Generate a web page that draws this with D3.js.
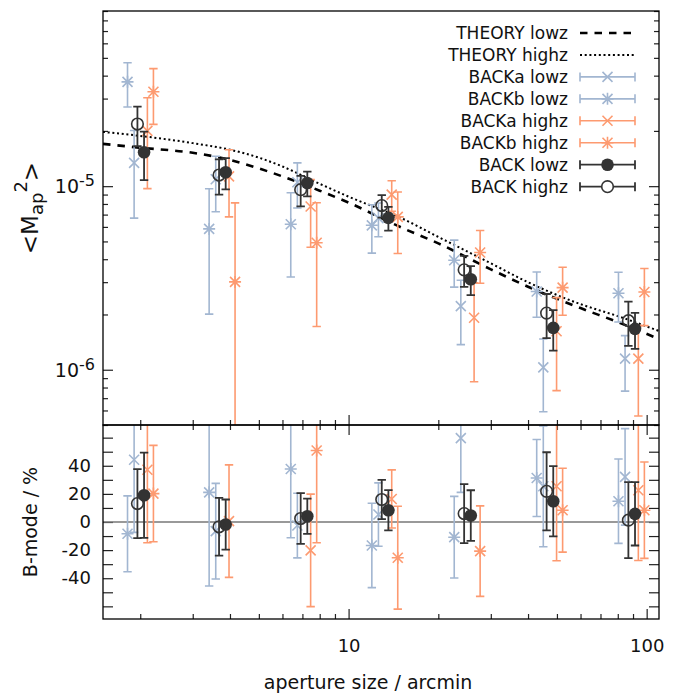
<!DOCTYPE html>
<html>
<head>
<meta charset="utf-8">
<script src="https://cdn.jsdelivr.net/npm/d3@7"></script>
<style>
body { margin: 0; background: #fff; }
text { font-family: "DejaVu Sans", sans-serif; fill: #111; }
</style>
</head>
<body>
<div id="chart"></div>
<script>
// aperture radius (arcmin) of the BACK lowz points, other series are shifted a little
var aperture = [2.06, 3.87, 7.27, 13.6, 25.7, 48.6, 91.4];

// theory curves
var theoryX     = [1.5, 2, 3, 4, 5, 6, 8, 10, 15, 20, 30, 40, 60, 80, 110];
var theoryLowz  = [1.70e-5, 1.62e-5, 1.52e-5, 1.39e-5, 1.25e-5, 1.13e-5, 0.945e-5, 0.814e-5, 0.596e-5, 0.488e-5, 0.3525e-5, 0.2834e-5, 0.2167e-5, 0.1818e-5, 0.147e-5];
var theoryHighz = [1.975e-5, 1.878e-5, 1.716e-5, 1.58e-5, 1.43e-5, 1.28e-5, 1.03e-5, 0.877e-5, 0.671e-5, 0.529e-5, 0.380e-5, 0.2997e-5, 0.2277e-5, 0.196e-5, 0.1626e-5];

// <Map^2> and errors
var backaLowz     = [1.34e-5, 1.09e-5, 1.05e-5, 0.67e-5, 0.222e-5, 0.103e-5, 0.115e-5];
var backaLowzErr  = [0.67e-5, 0.365e-5, 0.29e-5, 0.14e-5, 0.085e-5, 0.044e-5, 0.0385e-5];
var backbLowz     = [3.70e-5, 0.585e-5, 0.62e-5, 0.612e-5, 0.395e-5, 0.267e-5, 0.261e-5];
var backbLowzErr  = [1.0e-5, 0.384e-5, 0.30e-5, 0.18e-5, 0.113e-5, 0.074e-5, 0.079e-5];
var backaHighz    = [2.0e-5, 1.13e-5, 0.775e-5, 0.90e-5, 0.192e-5, 0.162e-5, 0.115e-5];
var backaHighzErr = [1.03e-5, 0.45e-5, 0.31e-5, 0.17e-5, 0.106e-5, 0.085e-5, 0.059e-5];
var backbHighz    = [3.27e-5, 0.301e-5, 0.492e-5, 0.68e-5, 0.435e-5, 0.28e-5, 0.265e-5];
var backbHighzErr = [1.1e-5, 0.51e-5, 0.32e-5, 0.25e-5, 0.139e-5, 0.082e-5, 0.091e-5];
var backLowz      = [1.53e-5, 1.19e-5, 1.04e-5, 0.672e-5, 0.311e-5, 0.169e-5, 0.167e-5];
var backLowzErr   = [0.45e-5, 0.23e-5, 0.16e-5, 0.10e-5, 0.056e-5, 0.042e-5, 0.037e-5];
var backHighz     = [2.18e-5, 1.15e-5, 0.957e-5, 0.784e-5, 0.35e-5, 0.2035e-5, 0.185e-5];
var backHighzErr  = [0.53e-5, 0.25e-5, 0.18e-5, 0.11e-5, 0.067e-5, 0.055e-5, 0.05e-5];

// B-mode (%) and errors, null = off the plot
var backaLowzB     = [44.3, -6.5, -2.5, 5.3, 59.7, 25.4, 32.1];
var backaLowzBErr  = [51.7, 34, 23, 22.5, 38.6, 43, 34.3];
var backbLowzB     = [-8.4, 21.1, 37.7, -16.7, -10.8, 31.3, 14.8];
var backbLowzBErr  = [27, 66.6, 48.9, 30, 29, 27.4, 30];
var backaHighzB    = [37.2, 0.6, -20.2, 16.4, null, 25.4, 22.6];
var backaHighzBErr = [52, 40, 40, 20.7, null, 53, 50];
var backbHighzB    = [20.2, null, 50.9, -25.4, -20.7, 8.4, 8.4];
var backbHighzBErr = [34.3, null, 65.7, 36.6, 32.2, 29.8, 34.3];
var backLowzB      = [19.0, -1.8, 4.1, 8.4, 4.6, 14.8, 5.8];
var backLowzBErr   = [30.3, 17.8, 12.5, 14.3, 18, 25, 22.5];
var backHighzB     = [13.1, -3.4, 2.5, 16, 6, 21.8, 1.3];
var backHighzBErr  = [24.5, 20.5, 18, 14, 21, 27.8, 27];

var yTicksTop = [1e-6, 1e-5];
var yTicksBot = [-60, -50, -40, -30, -20, -10, 0, 10, 20, 30, 40, 50, 60];

var blue = "#a2b6d1", orange = "#fd9a70", dark = "#333333";

var series = [
  {name: "BACKa lowz",  color: blue,   mark: "x",    shift: 0.926, v: backaLowz,  e: backaLowzErr,  b: backaLowzB,  be: backaLowzBErr},
  {name: "BACKb lowz",  color: blue,   mark: "star", shift: 0.88,  v: backbLowz,  e: backbLowzErr,  b: backbLowzB,  be: backbLowzBErr},
  {name: "BACKa highz", color: orange, mark: "x",    shift: 1.026, v: backaHighz, e: backaHighzErr, b: backaHighzB, be: backaHighzBErr},
  {name: "BACKb highz", color: orange, mark: "star", shift: 1.075, v: backbHighz, e: backbHighzErr, b: backbHighzB, be: backbHighzBErr},
  {name: "BACK lowz",   color: dark,   mark: "dot",  shift: 1,     v: backLowz,   e: backLowzErr,   b: backLowzB,   be: backLowzBErr},
  {name: "BACK highz",  color: dark,   mark: "ring", shift: 0.95,  v: backHighz,  e: backHighzErr,  b: backHighzB,  be: backHighzBErr}
];

var W = 686, H = 693;
var left = 103, right = 659, top1 = 11, mid = 425, bot = 619;

var x = d3.scaleLog().domain([1.5, 110]).range([left, right]);
var yTop = d3.scaleLog().domain([5e-7, 9e-5]).range([mid, top1]);
var yBot = d3.scaleLinear().domain([-69, 69]).range([bot, mid]);

var svg = d3.select("#chart").append("svg")
    .attr("width", W)
    .attr("height", H);

var defs = svg.append("defs");
defs.append("clipPath").attr("id", "clipTop").append("rect")
    .attr("x", left).attr("y", top1).attr("width", right - left).attr("height", mid - top1);
defs.append("clipPath").attr("id", "clipBot").append("rect")
    .attr("x", left).attr("y", mid).attr("width", right - left).attr("height", bot - mid);

function isDecade(v) {
  var l = Math.log10(v);
  return Math.abs(l - Math.round(l)) < 1e-6;
}
var xMajor = x.ticks().filter(isDecade);
var xMinor = x.ticks().filter(function(v) { return !isDecade(v); });
var yMajor = yTicksTop;
var yMinor = yTop.ticks().filter(function(v) { return !isDecade(v); });

// ticks: all drawn inwards, domain lines removed (frame drawn separately)
function ticks(axis, tx, ty) {
  var g = svg.append("g")
      .attr("transform", "translate(" + tx + "," + ty + ")")
      .call(axis);
  g.select(".domain").remove();
  g.selectAll("line").attr("stroke", "#222").attr("stroke-width", 1.2);
  g.selectAll("text").style("font-size", "18px").style("font-family", "DejaVu Sans, sans-serif").attr("fill", "#111");
  return g;
}

// top panel
var gy = ticks(d3.axisLeft(yTop).tickValues(yMajor).tickSize(-10).tickPadding(8).tickFormat(""), left, 0);
gy.selectAll(".tick").append("text")
    .attr("x", -8).attr("dy", "0.35em").attr("text-anchor", "end")
    .style("font-size", "19px")
    .each(function(d) {
      var t = d3.select(this);
      t.append("tspan").text("10");
      t.append("tspan").attr("dy", "-0.45em").style("font-size", "16px").text(String(Math.round(Math.log10(d))));
    });
ticks(d3.axisLeft(yTop).tickValues(yMinor).tickSize(-5).tickFormat(""), left, 0);
ticks(d3.axisRight(yTop).tickValues(yMajor).tickSize(-10).tickFormat(""), right, 0);
ticks(d3.axisRight(yTop).tickValues(yMinor).tickSize(-5).tickFormat(""), right, 0);
ticks(d3.axisBottom(x).tickValues(xMajor).tickSize(-10).tickFormat(""), 0, mid);
ticks(d3.axisBottom(x).tickValues(xMinor).tickSize(-5).tickFormat(""), 0, mid);

// bottom panel
ticks(d3.axisLeft(yBot).tickValues(yTicksBot).tickSize(-10).tickPadding(12)
    .tickFormat(function(d) { return (d % 20 === 0 && Math.abs(d) <= 40) ? String(d) : ""; }), left, 0);
ticks(d3.axisRight(yBot).tickValues(yTicksBot).tickSize(-10).tickFormat(""), right, 0);
ticks(d3.axisTop(x).tickValues(xMajor).tickSize(-10).tickFormat(""), 0, mid);
ticks(d3.axisTop(x).tickValues(xMinor).tickSize(-5).tickFormat(""), 0, mid);
ticks(d3.axisBottom(x).tickValues(xMajor).tickSize(-10).tickPadding(20).tickFormat(function(d) { return String(d); }), 0, bot);
ticks(d3.axisBottom(x).tickValues(xMinor).tickSize(-5).tickFormat(""), 0, bot);

// zero line
svg.append("line")
    .attr("x1", left).attr("x2", right)
    .attr("y1", yBot(0)).attr("y2", yBot(0))
    .attr("stroke", "#777").attr("stroke-width", 1.5);

// theory curves
var theoryLine = function(vals) {
  return d3.line()
    .x(function(d, i) { return x(theoryX[i]); })
    .y(function(d) { return yTop(d); })
    .curve(d3.curveMonotoneX)(vals);
};
var gTop = svg.append("g").attr("clip-path", "url(#clipTop)");
var gBot = svg.append("g").attr("clip-path", "url(#clipBot)");

gTop.append("path").attr("d", theoryLine(theoryLowz))
    .attr("fill", "none").attr("stroke", "#000").attr("stroke-width", 2.6).attr("stroke-dasharray", "7.5,7");
gTop.append("path").attr("d", theoryLine(theoryHighz))
    .attr("fill", "none").attr("stroke", "#000").attr("stroke-width", 2).attr("stroke-dasharray", "2,2.7");

function drawMark(g, type, cx, cy, color) {
  if (type === "x" || type === "star") {
    var s = 5;
    var d = "M" + (cx - s) + "," + (cy - s) + "L" + (cx + s) + "," + (cy + s) +
            "M" + (cx - s) + "," + (cy + s) + "L" + (cx + s) + "," + (cy - s);
    if (type === "star") d += "M" + (cx - 6) + "," + cy + "L" + (cx + 6) + "," + cy +
                              "M" + cx + "," + (cy - 6) + "L" + cx + "," + (cy + 6);
    g.append("path").attr("d", d).attr("stroke", color).attr("stroke-width", 1.6).attr("fill", "none");
  } else if (type === "dot") {
    g.append("circle").attr("cx", cx).attr("cy", cy).attr("r", 6.3).attr("fill", color);
  } else {
    g.append("circle").attr("cx", cx).attr("cy", cy).attr("r", 5.8)
        .attr("fill", "none").attr("stroke", color).attr("stroke-width", 1.6);
  }
}

function errorBar(g, px, y0, y1, color, w) {
  var c = 4.2;
  g.append("path")
      .attr("d", "M" + px + "," + y0 + "L" + px + "," + y1 +
                 "M" + (px - c) + "," + y0 + "L" + (px + c) + "," + y0 +
                 "M" + (px - c) + "," + y1 + "L" + (px + c) + "," + y1)
      .attr("stroke", color).attr("stroke-width", w).attr("fill", "none");
}

series.forEach(function(s) {
  var w = s.color === dark ? 1.8 : 1.6;
  aperture.forEach(function(a, i) {
    var px = x(a * s.shift);
    // top panel
    var v = s.v[i], e = s.e[i];
    errorBar(gTop, px, yTop(Math.max(v - e, 1e-9)), yTop(v + e), s.color, w);
    drawMark(gTop, s.mark, px, yTop(v), s.color);
    // bottom panel
    if (s.b[i] !== null) {
      errorBar(gBot, px, yBot(s.b[i] - s.be[i]), yBot(s.b[i] + s.be[i]), s.color, w);
      drawMark(gBot, s.mark, px, yBot(s.b[i]), s.color);
    }
  });
});

// frames
svg.append("rect").attr("x", left).attr("y", top1).attr("width", right - left).attr("height", mid - top1)
    .attr("fill", "none").attr("stroke", "#000").attr("stroke-width", 1.3);
svg.append("rect").attr("x", left).attr("y", mid).attr("width", right - left).attr("height", bot - mid)
    .attr("fill", "none").attr("stroke", "#000").attr("stroke-width", 1.3);

// legend
var legend = svg.append("g");
var rows = [{name: "THEORY lowz", line: "dash"}, {name: "THEORY highz", line: "dot"}].concat(series);
rows.forEach(function(r, i) {
  var ly = 33 + i * 21.95;
  legend.append("text")
      .attr("x", 568).attr("y", ly).attr("dy", "0.35em")
      .attr("text-anchor", "end")
      .style("font-size", "17px")
      .text(r.name);
  if (r.line === "dash") {
    legend.append("line").attr("x1", 580).attr("x2", 632).attr("y1", ly).attr("y2", ly)
        .attr("stroke", "#000").attr("stroke-width", 2.6).attr("stroke-dasharray", "7.5,7");
  } else if (r.line === "dot") {
    legend.append("line").attr("x1", 580).attr("x2", 634).attr("y1", ly).attr("y2", ly)
        .attr("stroke", "#000").attr("stroke-width", 2).attr("stroke-dasharray", "2,2.7");
  } else {
    var w = r.color === dark ? 1.8 : 1.6;
    legend.append("path")
        .attr("d", "M580," + ly + "L635," + ly + "M580," + (ly - 4.5) + "L580," + (ly + 4.5) +
                   "M635," + (ly - 4.5) + "L635," + (ly + 4.5))
        .attr("stroke", r.color).attr("stroke-width", w).attr("fill", "none");
    if (r.mark === "ring") {
      legend.append("circle").attr("cx", 607.5).attr("cy", ly).attr("r", 5.8)
          .attr("fill", "#fff").attr("stroke", r.color).attr("stroke-width", 1.6);
    } else {
      drawMark(legend, r.mark, 607.5, ly, r.color);
    }
  }
});

// axis titles
var yl = svg.append("text")
    .attr("transform", "translate(38,208) rotate(-90)")
    .attr("text-anchor", "middle")
    .style("font-size", "23px");
yl.append("tspan").text("<M");
yl.append("tspan").attr("dy", "0.3em").style("font-size", "18px").text("ap");
yl.append("tspan").attr("dy", "-0.9em").style("font-size", "18px").text("2");
yl.append("tspan").attr("dy", "0.5em").text(">");

svg.append("text")
    .attr("transform", "translate(37,522) rotate(-90)")
    .attr("text-anchor", "middle")
    .style("font-size", "19px")
    .text("B-mode / %");

svg.append("text")
    .attr("x", 368).attr("y", 689)
    .attr("text-anchor", "middle")
    .style("font-size", "19px")
    .text("aperture size / arcmin");
</script>
</body>
</html>
